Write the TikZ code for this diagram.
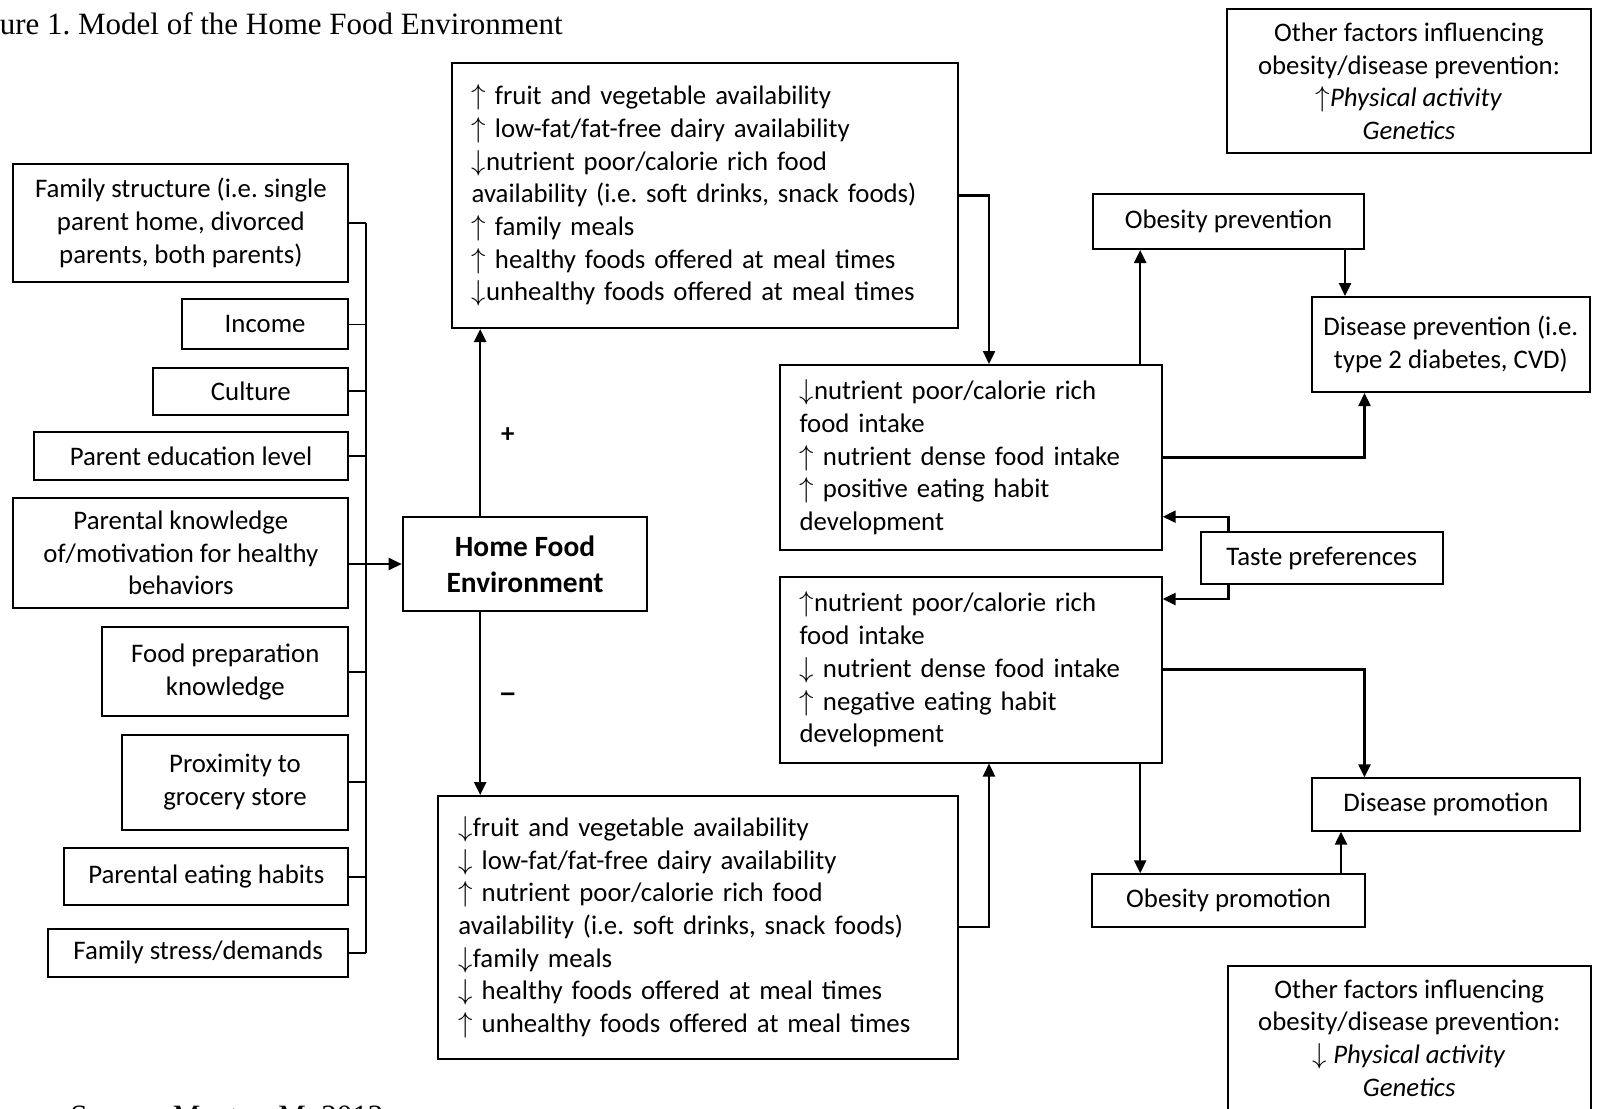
\documentclass[tikz,border=0pt]{standalone}
\usepackage{fontspec}
\setmainfont{Carlito}
\newfontfamily\timesfont{Liberation Serif}
\newfontfamily\dashfont{Liberation Sans}
\usepackage{tikz}
\usetikzlibrary{arrows.meta,calc}
\frenchspacing
\newcommand{\mainsize}{\fontsize{13.4}{16.35}\selectfont}
\newcommand{\uparr}{$\uparrow$}
\newcommand{\dnarr}{$\downarrow$}
\tikzset{
    box/.style={draw, line width=1pt, inner sep=0pt, align=center},
    listbox/.style={draw, line width=1pt, inner xsep=10pt, inner ysep=0pt, align=left},
    link/.style={line width=0.9pt},
    arr/.style={line width=1.2pt, -{Triangle[length=6.5pt,width=6pt]}},
    caption/.style={anchor=base west, inner sep=0pt, font=\timesfont\fontsize{15.5}{18}\selectfont}
}

\begin{document}
\begin{tikzpicture}[x=0.5pt, y=-0.5pt, font=\mainsize]
                    \useasboundingbox (0,0) rectangle (1602,1109);

                    \node [caption] (title) at (-42, 34)
                        {Figure 1. Model of the Home Food Environment};
                    \node [caption] (src) at (70, 1126)
                        {Source: Mentor, M. 2012};

                    % left column
                    \node [box, minimum width=167.55pt, minimum height=59.25pt] (fam) at (180.85, 222.75)
                        {Family structure (i.e. single\\parent home, divorced\\parents, both parents)};
                    \node [box, minimum width=83.25pt, minimum height=25pt] (inc) at (265.15, 324.4)
                        {Income};
                    \node [box, minimum width=97.55pt, minimum height=23.5pt] (cul) at (250.85, 391.3)
                        {Culture};
                    \node [box, minimum width=157.35pt, minimum height=24pt] (edu) at (191.05, 456.2)
                        {Parent education level};
                    \node [box, minimum width=167.55pt, minimum height=55.2pt] (know) at (180.85, 552.8)
                        {Parental knowledge\\of/motivation for healthy\\behaviors};
                    \node [box, minimum width=123.1pt, minimum height=44.45pt] (prep) at (225.3, 671.75)
                        {Food preparation\\knowledge};
                    \node [box, minimum width=113.4pt, minimum height=47.5pt] (prox) at (235, 782.1)
                        {Proximity to\\grocery store};
                    \node [box, minimum width=142pt, minimum height=28.6pt] (eat) at (206.4, 876.6)
                        {Parental eating habits};
                    \node [box, minimum width=150.2pt, minimum height=24pt] (stress) at (198.2, 952.7)
                        {Family stress/demands};

                    \node [box, minimum width=122.3pt, minimum height=47.25pt,
                        font=\fontsize{14.7}{18}\selectfont\bfseries] (hfe) at (525, 564)
                        {Home Food\\Environment};

                    \coordinate (bus) at (365.8, 0);
                    \foreach \b in {fam, inc, cul, edu, prep, prox, eat, stress}
                        \draw [link] (\b.east) -- (\b.east -| bus);
                    \draw [link] (fam.east -| bus) -- (stress.east -| bus);
                    \draw [arr] (hfe.west -| know.east) -- (hfe.west);

                    % availability boxes
                    \node [listbox, text width=233.4pt, minimum height=132.35pt] (T) at (705, 195.65)
                        {\uparr{} fruit and vegetable availability\\
                         \uparr{} low-fat/fat-free dairy availability\\
                         \dnarr{}nutrient poor/calorie rich food\\
                         availability (i.e. soft drinks, snack foods)\\
                         \uparr{} family meals\\
                         \uparr{} healthy foods offered at meal times\\
                         \dnarr{}unhealthy foods offered at meal times};
                    \node [listbox, text width=240pt, minimum height=131.25pt] (B) at (698.35, 927.25)
                        {\dnarr{}fruit and vegetable availability\\
                         \dnarr{} low-fat/fat-free dairy availability\\
                         \uparr{} nutrient poor/calorie rich food\\
                         availability (i.e. soft drinks, snack foods)\\
                         \dnarr{}family meals\\
                         \dnarr{} healthy foods offered at meal times\\
                         \uparr{} unhealthy foods offered at meal times};

                    \coordinate (hx) at (480.2, 0);
                    \draw [arr] (hfe.north -| hx) -- (T.south -| hx);
                    \draw [arr] (hfe.south -| hx) -- (B.north -| hx);
                    \node [font=\mainsize\bfseries] (plus) at (507.8, 435) {+};
                    \node [font=\dashfont\mainsize\bfseries] (minus) at (507.8, 697) {–};

                    % intake boxes
                    \node [listbox, text width=171.05pt, minimum height=92.35pt] (P) at (970.65, 457.35)
                        {\dnarr{}nutrient poor/calorie rich\\
                         food intake\\
                         \uparr{} nutrient dense food intake\\
                         \uparr{} positive eating habit\\
                         development};
                    \node [listbox, text width=171.05pt, minimum height=93pt] (N) at (970.65, 669.5)
                        {\uparr{}nutrient poor/calorie rich\\
                         food intake\\
                         \dnarr{} nutrient dense food intake\\
                         \uparr{} negative eating habit\\
                         development};

                    \coordinate (tx) at (989, 0);
                    \draw [arr] (T.east) -| (P.north -| tx);
                    \draw [arr] (B.east) -| (N.south -| tx);

                    % outcomes
                    \node [box, minimum width=182pt, minimum height=72.05pt] (of1) at (1409, 81.25)
                        {Other factors influencing\\obesity/disease prevention:\\
                         \uparr\textit{Physical activity}\\\textit{Genetics}};
                    \node [box, minimum width=135.8pt, minimum height=27.5pt] (OP) at (1228.5, 221.5)
                        {Obesity prevention};
                    \node [box, minimum width=139.15pt, minimum height=47.5pt] (DP) at (1450.85, 344.5)
                        {Disease prevention (i.e.\\type 2 diabetes, CVD)};
                    \node [box, minimum width=121pt, minimum height=25.85pt] (TP) at (1321.7, 558.15)
                        {Taste preferences};
                    \node [box, minimum width=133.6pt, minimum height=26.2pt] (DM) at (1445.9, 804.5)
                        {Disease promotion};
                    \node [box, minimum width=136.4pt, minimum height=26.5pt] (OM) at (1228.6, 900.8)
                        {Obesity promotion};
                    \node [box, minimum width=181.5pt, minimum height=72.05pt] (of2) at (1409.2, 1038)
                        {Other factors influencing\\obesity/disease prevention:\\
                         \dnarr{} \textit{Physical activity}\\\textit{Genetics}};

                    \coordinate (ox) at (1140.2, 0);
                    \coordinate (dx) at (1345, 0);
                    \coordinate (ex) at (1364.5, 0);
                    \coordinate (mx) at (1341, 0);
                    \coordinate (t1) at (1228.3, 516.7);
                    \coordinate (t2) at (1228.3, 599);
                    \draw [arr] (P.north -| ox) -- (OP.south -| ox);
                    \draw [arr] (N.south -| ox) -- (OM.north -| ox);
                    \draw [arr] (OP.south -| dx) -- (DP.north -| dx);
                    \draw [arr] (P.east) -| (DP.south -| ex);
                    \draw [arr] (N.east) -| (DM.north -| ex);
                    \draw [arr] (OM.north -| mx) -- (DM.south -| mx);
                    \draw [arr] (TP.north -| t1) -- (t1) -- (t1 -| P.east);
                    \draw [arr] (TP.south -| t2) -- (t2) -- (t2 -| N.east);
                \end{tikzpicture}
\end{document}
